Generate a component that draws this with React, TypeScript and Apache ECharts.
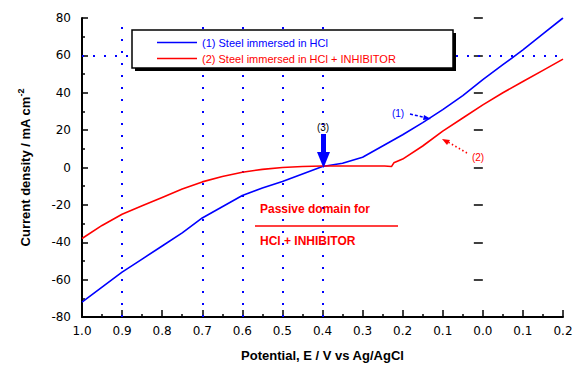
import React, { useEffect, useRef } from "react";
import * as echarts from "echarts";

const potentialBlue = [-1.0, -0.95, -0.9, -0.85, -0.8, -0.75, -0.7, -0.65, -0.6, -0.55, -0.5, -0.45, -0.4, -0.35, -0.3, -0.25, -0.2, -0.15, -0.1, -0.05, 0.0, 0.05, 0.1, 0.15, 0.2];
const currentBlue = [-72, -64, -56, -49, -42, -35, -27, -21, -15, -11, -7.5, -3.5, 0.5, 2.3, 5.5, 11.5, 17.5, 24, 31, 38.5, 47, 55, 63, 71.5, 80];

const potentialRed = [-1.0, -0.95, -0.9, -0.85, -0.8, -0.75, -0.7, -0.65, -0.6, -0.55, -0.5, -0.45, -0.4, -0.35, -0.3, -0.245, -0.228, -0.222, -0.2, -0.15, -0.1, -0.05, 0.0, 0.05, 0.1, 0.15, 0.2];
const currentRed = [-38, -31, -25, -20.5, -16, -11.5, -7.7, -4.8, -2.5, -1, 0, 0.5, 0.8, 0.8, 0.8, 0.8, 0.5, 2.5, 4.5, 11.5, 19.5, 26.5, 33.5, 40, 46, 52, 58];

const seriesNames = ["(1) Steel immersed in HCl", "(2) Steel immersed in HCl + INHIBITOR"];
const seriesColors = ["#0000ff", "#ff0000"];
const dottedPotentials = [-0.9, -0.7, -0.6, -0.5, -0.4];
const dottedCurrent = 60;

const xMin = -1.0, xMax = 0.2, xStep = 0.1;
const yMin = -80, yMax = 80, yStep = 20;

export default function App() {
  const ref = useRef<HTMLDivElement>(null);
  useEffect(() => {
    if (!ref.current) return;
    const chart = echarts.init(ref.current, undefined, { renderer: "svg" });
    const zip = (xs: number[], ys: number[]) => xs.map((x, i) => [x, ys[i]]);
    const tickFont = "DejaVu Sans";
    const lineIcon = "path://M0,0L40,0L40,1.6L0,1.6Z";
    const option: any = {
      animation: false,
      backgroundColor: "#fff",
      grid: { left: 82, right: 18, top: 18, bottom: 47 },
      xAxis: {
        type: "value",
        min: xMin,
        max: xMax,
        interval: xStep,
        name: "Potential, E / V vs Ag/AgCl",
        nameLocation: "middle",
        nameGap: 32,
        nameTextStyle: { fontFamily: "Liberation Sans", fontWeight: "bold", fontSize: 13, color: "#000" },
        axisLine: { onZero: false, lineStyle: { color: "#000", width: 2 } },
        axisTick: { inside: true, length: 7, lineStyle: { color: "#000", width: 1.5 } },
        minorTick: { show: true, splitNumber: 2, length: 3, lineStyle: { color: "#000", width: 1.5 } },
        axisLabel: {
          margin: 8,
          fontFamily: tickFont,
          fontSize: 12,
          color: "#000",
          formatter: (v: number) => Math.abs(v).toFixed(1),
        },
        splitLine: { show: false },
      },
      yAxis: [
        {
          type: "value",
          min: yMin,
          max: yMax,
          interval: yStep,
          name: "{a|Current density / mA cm}{b|-2}",
          nameLocation: "middle",
          nameGap: 48,
          nameRotate: 90,
          nameTextStyle: {
            rich: {
              a: { fontFamily: "Liberation Sans", fontWeight: "bold", fontSize: 13, color: "#000" },
              b: { fontFamily: "Liberation Sans", fontWeight: "bold", fontSize: 9, color: "#000", padding: [0, 0, 9, 0] },
            },
          },
          axisLine: { onZero: false, lineStyle: { color: "#000", width: 2 } },
          axisTick: { inside: true, length: 6, lineStyle: { color: "#000", width: 1.5 } },
          minorTick: { show: true, splitNumber: 2, length: 3, lineStyle: { color: "#000", width: 1.5 } },
          axisLabel: { margin: 11, fontFamily: tickFont, fontSize: 12, color: "#000" },
          splitLine: { show: false },
        },
        {
          type: "value",
          position: "left",
          min: yMin,
          max: yMax,
          interval: yStep,
          axisLine: { show: false },
          axisTick: { inside: false, length: 9, lineStyle: { color: "#000", width: 1.5 } },
          axisLabel: { show: false },
          splitLine: { show: false },
        },
      ],
      legend: {
        orient: "vertical",
        left: 157,
        top: 36,
        padding: 0,
        itemWidth: 40,
        itemHeight: 2,
        itemGap: 3,
        z: 30,
        icon: lineIcon,
        textStyle: { fontFamily: "Liberation Sans", fontSize: 11, lineHeight: 13 },
        data: [
          { name: seriesNames[0], textStyle: { color: seriesColors[0] } },
          { name: seriesNames[1], textStyle: { color: seriesColors[1] } },
        ],
      },
      series: [
        {
          name: seriesNames[0],
          type: "line",
          data: zip(potentialBlue, currentBlue),
          symbol: "none",
          lineStyle: { color: seriesColors[0], width: 1.6 },
          itemStyle: { color: seriesColors[0] },
          z: 2,
          markLine: {
            silent: true,
            symbol: "none",
            z: 1,
            label: { show: false },
            lineStyle: { color: "#0000ff", width: 2, type: [2, 10] },
            data: [
              ...dottedPotentials.map((p) => ({ xAxis: p })),
              { yAxis: dottedCurrent, lineStyle: { type: [2, 9] } },
            ],
          },
        },
        {
          name: seriesNames[1],
          type: "line",
          data: zip(potentialRed, currentRed),
          symbol: "none",
          lineStyle: { color: seriesColors[1], width: 1.6 },
          itemStyle: { color: seriesColors[1] },
          z: 2,
        },
      ],
      graphic: [
        { type: "rect", z: 20, shape: { x: 135, y: 33, width: 321, height: 38 }, style: { fill: "#000" } },
        { type: "rect", z: 21, shape: { x: 132, y: 30, width: 321, height: 38 }, style: { fill: "#fff", stroke: "#000", lineWidth: 1.5 } },
        // (3) arrow
        { type: "text", z: 22, style: { x: 323, y: 127, text: "(3)", fill: "#000", font: "10px Liberation Sans", align: "center", verticalAlign: "middle" } },
        { type: "polygon", z: 22, shape: { points: [[321, 134], [326, 134], [326, 152], [330, 152], [323.5, 168], [317, 152], [321, 152]] }, style: { fill: "#0000ff" } },
        // (1)
        { type: "text", z: 22, style: { x: 398, y: 113, text: "(1)", fill: "#0000ff", font: "10px Liberation Sans", align: "center", verticalAlign: "middle" } },
        { type: "line", z: 22, shape: { x1: 410, y1: 114, x2: 427, y2: 118 }, style: { stroke: "#0000ff", lineWidth: 1.5, lineDash: [3, 2] } },
        { type: "polygon", z: 22, shape: { points: [[431, 119], [424, 115], [423, 120]] }, style: { fill: "#0000ff" } },
        // (2)
        { type: "text", z: 22, style: { x: 478, y: 157, text: "(2)", fill: "#ff0000", font: "10px Liberation Sans", align: "center", verticalAlign: "middle" } },
        { type: "line", z: 22, shape: { x1: 467, y1: 153, x2: 448, y2: 142 }, style: { stroke: "#ff0000", lineWidth: 1.5, lineDash: [1.5, 2.5] } },
        { type: "polygon", z: 22, shape: { points: [[442, 139], [450, 140], [447, 145]] }, style: { fill: "#ff0000" } },
        // passive domain
        { type: "text", z: 22, style: { x: 260, y: 209, text: "Passive domain for", fill: "#ff0000", font: "bold 12px Liberation Sans", align: "left", verticalAlign: "middle" } },
        { type: "line", z: 22, shape: { x1: 255, y1: 226, x2: 398, y2: 226 }, style: { stroke: "#ff0000", lineWidth: 1.5 } },
        { type: "text", z: 22, style: { x: 260, y: 241, text: "HCl + INHIBITOR", fill: "#ff0000", font: "bold 12px Liberation Sans", align: "left", verticalAlign: "middle" } },
      ],
    };
    chart.setOption(option);
    return () => chart.dispose();
  }, []);
  return <div ref={ref} style={{ width: 581, height: 367, position: "absolute", left: 0, top: 0 }} />;
}
